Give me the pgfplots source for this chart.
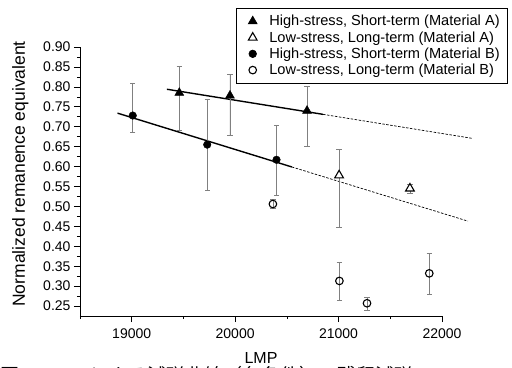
\documentclass[border=0pt]{standalone}
\usepackage{fontspec}
\setmainfont{Liberation Sans}
\newfontfamily\cjk{Noto Sans CJK JP}
\usepackage{pgfplots}
\pgfplotsset{compat=1.18}
\begin{document}
\begin{tikzpicture}
\useasboundingbox (0,0) rectangle (512bp,368bp);
\begin{axis}[
  scale only axis, width=362bp, height=269bp,
  at={(80bp,52bp)}, anchor=south west,
  xmin=18500, xmax=22000, ymin=0.225, ymax=0.90,
  axis lines*=left, clip=false,
  axis line style={line width=0.8pt},
  xtick={19000,20000,21000,22000},
  minor xtick={18500,19500,20500,21500},
  ytick={0.25,0.30,0.35,0.40,0.45,0.50,0.55,0.60,0.65,0.70,0.75,0.80,0.85,0.90},
  minor ytick={0.275,0.325,0.375,0.425,0.475,0.525,0.575,0.625,0.675,0.725,0.775,0.825,0.875},
  tick align=outside, major tick length=6bp, minor tick length=3bp,
  tick style={black, line width=0.6pt},
  scaled ticks=false,
  /pgf/number format/assume math mode=true,
  xticklabel style={/pgf/number format/set thousands separator={}, yshift=-3bp},
  yticklabel style={/pgf/number format/.cd, fixed, fixed zerofill, precision=2},
  tick label style={font=\fontsize{14bp}{16bp}\selectfont},
  xlabel={LMP},
  xlabel style={font=\fontsize{16bp}{18bp}\selectfont, at={(axis description cs:0.5,-0.175)}, anchor=base},
  ylabel={Normalized remanence equivalent},
  ylabel style={font=\fontsize{17.5bp}{19bp}\selectfont, at={(axis description cs:-0.165,0.528)}, anchor=center, rotate=0},
  legend style={at={(axis description cs:0.4306,1.145)}, anchor=north west,
    draw=black, line width=0.6pt, font=\fontsize{14.6bp}{15.5bp}\selectfont,
    inner xsep=6bp, inner ysep=5bp, row sep=0.2bp},
  legend cell align=left,
  legend image code/.code={\path (0bp,0bp) (24bp,0bp); \draw[mark repeat=1,#1] plot coordinates {(10bp,0bp)};},
  error bars/error bar style={gray, line width=0.6pt},
  error bars/error mark options={rotate=90, mark size=2.7bp, gray, line width=0.6pt},
]
% regression lines
\addplot[black, line width=1.4pt, forget plot] coordinates {(19340,0.794) (20850,0.731)};
\addplot[black, line width=0.7pt, dash pattern=on 2.5bp off 1.5bp, forget plot] coordinates {(20850,0.731) (22287,0.671)};
\addplot[black, line width=1.4pt, forget plot] coordinates {(18863,0.734) (20548,0.599)};
\addplot[black, line width=0.7pt, dash pattern=on 2.5bp off 1.5bp, forget plot] coordinates {(20548,0.599) (22251,0.463)};
% Material A high-stress
\addplot[only marks, mark=triangle*, mark size=5.2bp, black, fill=black,
  error bars/.cd, y dir=both, y explicit] coordinates {
  (19460,0.785) += (0,0.067) -= (0,0.095)
  (19950,0.778) += (0,0.054) -= (0,0.099)
  (20695,0.740) += (0,0.062) -= (0,0.090)
};
\addlegendentry{High-stress, Short-term (Material A)}
% Material A low-stress
\addplot[only marks, mark=triangle*, mark size=5bp, black, line width=1.1pt,
  mark options={fill=white},
  error bars/.cd, y dir=both, y explicit] coordinates {
  (21005,0.578) += (0,0.066) -= (0,0.130)
  (21690,0.545) += (0,0.011) -= (0,0.012)
};
\addlegendentry{Low-stress, Long-term (Material A)}
% Material B high-stress
\addplot[only marks, mark=*, mark size=3.8bp, black, fill=black,
  error bars/.cd, y dir=both, y explicit] coordinates {
  (19010,0.728) += (0,0.082) -= (0,0.043)
  (19730,0.655) += (0,0.115) -= (0,0.114)
  (20400,0.617) += (0,0.086) -= (0,0.088)
};
\addlegendentry{High-stress, Short-term (Material B)}
% Material B low-stress
\addplot[only marks, mark=o, mark size=3.8bp, black, line width=1.1pt,
  mark options={fill=white},
  error bars/.cd, y dir=both, y explicit] coordinates {
  (20365,0.506) += (0,0.011) -= (0,0.011)
  (21008,0.313) += (0,0.048) -= (0,0.048)
  (21275,0.257) += (0,0.016) -= (0,0.017)
  (21877,0.332) += (0,0.050) -= (0,0.052)
};
\addlegendentry{Low-stress, Long-term (Material B)}
\end{axis}
\node[anchor=base west, inner sep=0pt, font=\cjk\fontsize{19bp}{21bp}\selectfont] at (0bp,-14bp) {図 3　LMPによる減磁曲線（各条件）の残留減磁};
\end{tikzpicture}
\end{document}
